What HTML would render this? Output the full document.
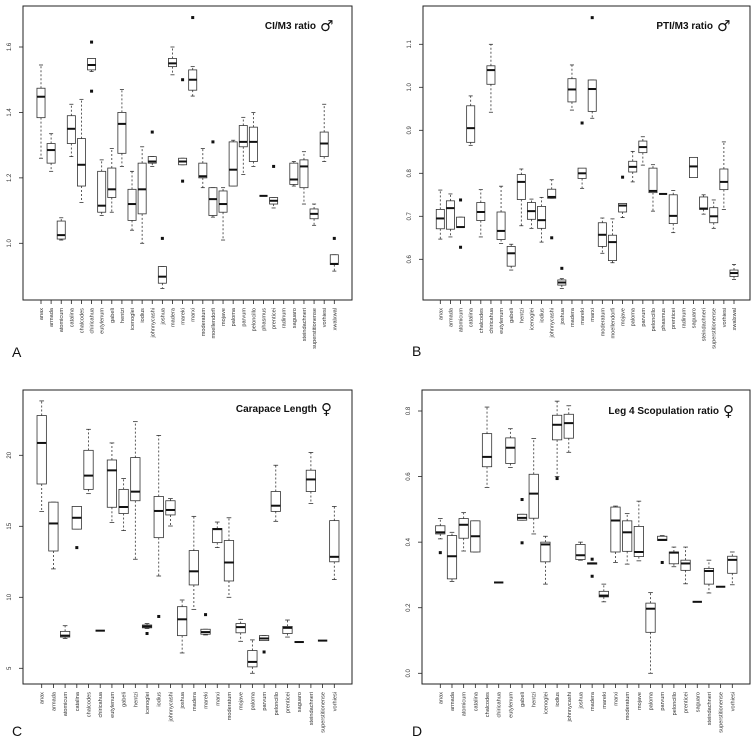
<!DOCTYPE html>
<html><head><meta charset="utf-8">
<style>
html,body{margin:0;padding:0;background:#fff;}
svg{display:block;font-family:"Liberation Sans",Arial,sans-serif;}
</style></head>
<body>
<svg id="fig" width="756" height="747" viewBox="0 0 756 747" xmlns="http://www.w3.org/2000/svg"></svg>
<script>
// ---------- Panel A: CI/M3 ratio (male) ----------
const aCats = ["anax","armada","atomicum","catalina","chalcodes","chiricahua","eutylenum","gabeli","hentzi","icenoglei","iodius","johnnycashi","joshua","madera","mareki","marxi","moderatum","moellendorfi","mojave","paloma","parvum","peloncillo","phasmus","prenticei","radinum","saguaro","steindachneri","superstitionense","vorhiesi","xwalxwal"];
const aLo  = [1.26,1.22,1.01,1.265,1.125,1.525,1.085,1.095,1.235,1.04,1.0,1.235,0.862,1.515,1.24,1.45,1.17,1.08,1.01,1.175,1.21,1.235,1.145,1.108,null,1.175,1.12,1.055,1.25,0.915];
const aQ1  = [1.384,1.245,1.013,1.305,1.175,1.53,1.095,1.14,1.275,1.07,1.09,1.245,0.878,1.54,1.24,1.468,1.2,1.085,1.095,1.175,1.295,1.25,1.145,1.12,null,1.18,1.17,1.075,1.265,0.935];
const aMed = [1.448,1.285,1.025,1.35,1.24,1.545,1.115,1.165,1.365,1.12,1.165,1.25,0.898,1.55,1.25,1.5,1.205,1.135,1.12,1.225,1.31,1.31,1.145,1.13,null,1.195,1.235,1.09,1.305,0.937];
const aQ3  = [1.474,1.305,1.068,1.39,1.32,1.565,1.22,1.23,1.4,1.165,1.245,1.265,0.929,1.565,1.26,1.53,1.245,1.17,1.16,1.31,1.36,1.355,1.145,1.14,null,1.245,1.255,1.105,1.34,0.965];
const aHi  = [1.545,1.335,1.078,1.425,1.44,1.565,1.255,1.29,1.47,1.22,1.295,1.265,0.929,1.6,1.26,1.54,1.29,1.17,1.17,1.315,1.385,1.40,1.145,1.14,null,1.25,1.28,1.12,1.425,0.965];
const aOut = [[],[],[],[],[],[1.615,1.465],[],[],[],[],[],[1.34],[1.015],[],[1.5,1.19],[1.69],[],[1.31],[],[],[],[],[],[1.235],[],[],[],[],[],[1.015]];
const aTicks = [1.0,1.2,1.4,1.6];
const aTickLabels = ["1.0","1.2","1.4","1.6"];

// ---------- Panel B: PTI/M3 ratio (male) ----------
const bCats = aCats.slice();
const bLo  = [0.647,0.652,0.674,0.865,0.652,0.942,0.637,0.575,0.678,0.672,0.64,0.742,0.532,0.947,0.765,0.928,0.614,0.592,0.697,0.78,0.819,0.712,0.752,0.662,null,0.79,0.705,0.672,0.716,0.553];
const bQ1  = [0.671,0.670,0.674,0.872,0.69,1.007,0.646,0.584,0.739,0.693,0.672,0.742,0.54,0.966,0.788,0.944,0.63,0.597,0.71,0.803,0.848,0.755,0.752,0.683,null,0.79,0.716,0.685,0.762,0.56];
const bMed = [0.695,0.719,0.675,0.905,0.71,1.04,0.666,0.614,0.78,0.712,0.691,0.745,0.546,0.995,0.8,0.996,0.657,0.64,0.725,0.815,0.861,0.759,0.752,0.701,null,0.816,0.718,0.7,0.78,0.568];
const bQ3  = [0.716,0.736,0.698,0.957,0.732,1.05,0.71,0.63,0.797,0.732,0.723,0.763,0.552,1.02,0.812,1.017,0.685,0.656,0.73,0.828,0.875,0.812,0.752,0.75,null,0.837,0.745,0.72,0.81,0.575];
const bHi  = [0.761,0.752,0.698,0.98,0.762,1.1,0.77,0.635,0.81,0.74,0.744,0.785,0.555,1.052,0.81,1.017,0.696,0.694,0.73,0.851,0.885,0.82,0.752,0.76,null,0.837,0.75,0.738,0.873,0.588];
const bOut = [[],[],[0.738,0.628],[],[],[],[],[],[],[],[],[0.65],[0.579],[],[0.917],[1.162],[],[],[0.791],[],[],[],[],[],[],[],[],[],[],[]];
const bTicks = [0.6,0.7,0.8,0.9,1.0,1.1];
const bTickLabels = ["0.6","0.7","0.8","0.9","1.0","1.1"];

// ---------- Panel C: Carapace Length (female) ----------
const cCats = ["anax","armada","atomicum","catalina","chalcodes","chiricahua","eutylenum","gabeli","hentzi","icenoglei","iodius","johnnycashi","joshua","madera","mareki","marxi","moderatum","mojave","paloma","parvum","peloncillo","prenticei","saguaro","steindachneri","superstitionense","vorhiesi"];
const cLo  = [16.05,12.0,7.1,14.8,17.3,7.65,15.26,14.7,12.68,7.8,11.5,15.02,6.08,9.15,7.35,13.5,10.0,6.9,4.65,6.95,15.35,7.2,6.85,16.6,6.95,11.25];
const cQ1  = [17.98,13.26,7.2,14.8,17.6,7.65,16.34,15.9,16.8,7.85,14.2,15.8,7.3,10.87,7.4,13.85,11.15,7.5,5.1,6.95,16.05,7.45,6.85,17.45,6.95,12.5];
const cMed = [20.87,15.2,7.3,15.6,18.57,7.65,18.94,16.36,17.44,7.95,16.08,16.15,8.45,11.83,7.55,14.8,12.45,7.9,5.45,7.1,16.45,7.85,6.85,18.3,6.95,12.85];
const cQ3  = [22.8,16.7,7.6,16.4,20.35,7.65,19.67,17.6,19.84,8.05,17.1,16.8,9.34,13.29,7.75,14.85,14.0,8.15,6.25,7.3,17.45,7.95,6.85,18.95,6.95,15.4];
const cHi  = [23.83,16.7,8.0,16.4,21.83,7.65,20.87,18.36,22.37,8.15,21.4,16.95,9.81,15.7,7.75,15.3,15.6,8.45,7.0,7.3,19.3,8.4,6.85,20.2,6.95,16.4];
const cOut = [[],[],[],[13.5],[],[],[],[],[],[7.45],[8.65],[],[],[],[8.78],[],[],[],[],[6.15],[],[],[],[],[],[]];
const cTicks = [5,10,15,20];
const cTickLabels = ["5","10","15","20"];

// ---------- Panel D: Leg 4 Scopulation ratio (female) ----------
const dCats = cCats.slice();
const dLo  = [0.41,0.28,0.373,0.37,0.567,0.277,0.628,0.467,0.425,0.272,0.6,0.674,0.345,0.333,0.218,0.338,0.333,0.343,0.0,0.405,0.325,0.273,0.218,0.245,0.264,0.27];
const dQ1  = [0.425,0.288,0.412,0.37,0.63,0.277,0.64,0.467,0.473,0.34,0.712,0.717,0.347,0.333,0.233,0.37,0.372,0.356,0.125,0.405,0.334,0.314,0.218,0.272,0.264,0.305];
const dMed = [0.43,0.357,0.453,0.418,0.66,0.277,0.688,0.474,0.548,0.393,0.758,0.763,0.36,0.335,0.237,0.466,0.43,0.37,0.197,0.407,0.368,0.335,0.218,0.312,0.264,0.346];
const dQ3  = [0.45,0.42,0.472,0.465,0.731,0.277,0.718,0.485,0.607,0.4,0.787,0.79,0.393,0.337,0.25,0.507,0.465,0.448,0.214,0.418,0.37,0.345,0.218,0.32,0.264,0.357];
const dHi  = [0.472,0.43,0.49,0.465,0.812,0.277,0.746,0.485,0.716,0.418,0.83,0.816,0.4,0.337,0.272,0.51,0.487,0.525,0.246,0.42,0.385,0.385,0.218,0.345,0.264,0.37];
const dOut = [[0.368],[],[],[],[],[],[],[0.53,0.398],[],[],[0.594],[],[],[0.348,0.296],[],[],[],[],[],[0.338],[],[],[],[],[],[]];
const dTicks = [0.0,0.2,0.4,0.6,0.8];
const dTickLabels = ["0.0","0.2","0.4","0.6","0.8"];

const NS = "http://www.w3.org/2000/svg";
const svg = document.getElementById('fig');
function mk(tag, attrs, parent){
  const e = document.createElementNS(NS, tag);
  for (const k in attrs) e.setAttribute(k, attrs[k]);
  (parent||svg).appendChild(e);
  return e;
}

function panel(cfg){
  const g = mk('g', {});
  
  
  const {L,R,T,B} = cfg;
  const yScale = v => cfg.y0px + (v - cfg.v0) * (cfg.y1px - cfg.y0px) / (cfg.v1 - cfg.v0);
  const n = cfg.cats.length;
  const xScale = i => cfg.x0 + i * (cfg.xN - cfg.x0) / (n - 1);
  const sp = (cfg.xN - cfg.x0) / (n - 1);
  const bw = sp * 0.8;

  const frame = mk('rect', {x:L, y:T, width:R-L, height:B-T, fill:'none', stroke:'#222', 'stroke-width':1}, g);
  
  

  // y ticks
  cfg.ticks.forEach((t, k) => {
    const y = yScale(t);
    const tk = mk('line', {x1:L-4, x2:L, y1:y, y2:y, stroke:'#222', 'stroke-width':0.8}, g);
    
    
    const lx = L - 12;
    const tx = mk('text', {x:lx, y:y, 'font-size':6, 'text-anchor':'middle', fill:'#333', transform:`rotate(-90 ${lx} ${y})`}, g);
    tx.textContent = cfg.tickLabels[k];
    
    
  });

  for (let i = 0; i < n; i++){
    const cx = xScale(i);
    const xt = mk('line', {x1:cx, x2:cx, y1:B, y2:B+4, stroke:'#222', 'stroke-width':0.8}, g);
    
    
    const ly = B + 8;
    const lbl = mk('text', {x:cx+2, y:ly, 'font-size':5.6, 'text-anchor':'end', fill:'#333', transform:`rotate(-90 ${cx+2} ${ly})`}, g);
    lbl.textContent = cfg.cats[i];
    
    

    if (cfg.med[i] === null) continue;
    const bg = mk('g', {}, g);
    
    
    const yLo = yScale(cfg.lo[i]), yHi = yScale(cfg.hi[i]);
    const yQ1 = yScale(cfg.q1[i]), yQ3 = yScale(cfg.q3[i]), yMd = yScale(cfg.med[i]);
    mk('line', {x1:cx, x2:cx, y1:yQ1, y2:yLo, stroke:'#333', 'stroke-width':0.8, 'stroke-dasharray':'2,2'}, bg);
    mk('line', {x1:cx, x2:cx, y1:yQ3, y2:yHi, stroke:'#333', 'stroke-width':0.8, 'stroke-dasharray':'2,2'}, bg);
    mk('line', {x1:cx-bw/4, x2:cx+bw/4, y1:yLo, y2:yLo, stroke:'#333', 'stroke-width':0.8}, bg);
    mk('line', {x1:cx-bw/4, x2:cx+bw/4, y1:yHi, y2:yHi, stroke:'#333', 'stroke-width':0.8}, bg);
    mk('rect', {x:cx-bw/2, y:Math.min(yQ1,yQ3), width:bw, height:Math.abs(yQ1-yQ3), fill:'#fff', stroke:'#333', 'stroke-width':0.8}, bg);
    mk('line', {x1:cx-bw/2, x2:cx+bw/2, y1:yMd, y2:yMd, stroke:'#111', 'stroke-width':2}, bg);
    cfg.out[i].forEach(o => {
      const oy = yScale(o);
      const p = mk('rect', {x:cx-1.5, y:oy-1.5, width:3, height:3, fill:'#111'}, bg);
      
      
    });
  }

  const tt = mk('text', {x:cfg.titleX, y:cfg.titleY, 'font-size':10, 'font-weight':'bold', 'text-anchor':'end', fill:'#111'}, g);
  tt.textContent = cfg.title;
  
  
  const sym = mk('text', {x:cfg.titleX+4, y:cfg.titleY+2, 'font-size':15, fill:'#111', 'font-family':'DejaVu Sans, sans-serif'}, g);
  sym.textContent = cfg.sym;
  
  

  const letter = mk('text', {x:cfg.letterX, y:cfg.letterY, 'font-size':14, fill:'#111'}, g);
  letter.textContent = cfg.letter;
  
  
}

panel({name:'panel-a-ci-m3', L:23, R:352, T:6, B:300, v0:1.0, v1:1.6, y0px:243.3, y1px:47,
  x0:41, xN:334.3, cats:aCats, lo:aLo, q1:aQ1, med:aMed, q3:aQ3, hi:aHi, out:aOut,
  ticks:aTicks, tickLabels:aTickLabels, title:'CI/M3 ratio', sym:'♂', titleX:316, titleY:29, letter:'A', letterX:12, letterY:357});
panel({name:'panel-b-pti-m3', L:423, R:750, T:6, B:300, v0:0.6, v1:1.1, y0px:259.3, y1px:44.3,
  x0:440.3, xN:734, cats:bCats, lo:bLo, q1:bQ1, med:bMed, q3:bQ3, hi:bHi, out:bOut,
  ticks:bTicks, tickLabels:bTickLabels, title:'PTI/M3 ratio', sym:'♂', titleX:713, titleY:29, letter:'B', letterX:412, letterY:356});
panel({name:'panel-c-carapace', L:23, R:352, T:390, B:684, v0:5, v1:20, y0px:668.3, y1px:455.3,
  x0:41.7, xN:334.3, cats:cCats, lo:cLo, q1:cQ1, med:cMed, q3:cQ3, hi:cHi, out:cOut,
  ticks:cTicks, tickLabels:cTickLabels, title:'Carapace Length', sym:'♀', titleX:317, titleY:412, letter:'C', letterX:12, letterY:736});
panel({name:'panel-d-scopulation', L:422, R:750, T:390, B:684, v0:0.0, v1:0.8, y0px:673.3, y1px:411,
  x0:440.3, xN:732.3, cats:dCats, lo:dLo, q1:dQ1, med:dMed, q3:dQ3, hi:dHi, out:dOut,
  ticks:dTicks, tickLabels:dTickLabels, title:'Leg 4 Scopulation ratio', sym:'♀', titleX:719, titleY:414, letter:'D', letterX:412, letterY:736});
</script>
</body></html>
